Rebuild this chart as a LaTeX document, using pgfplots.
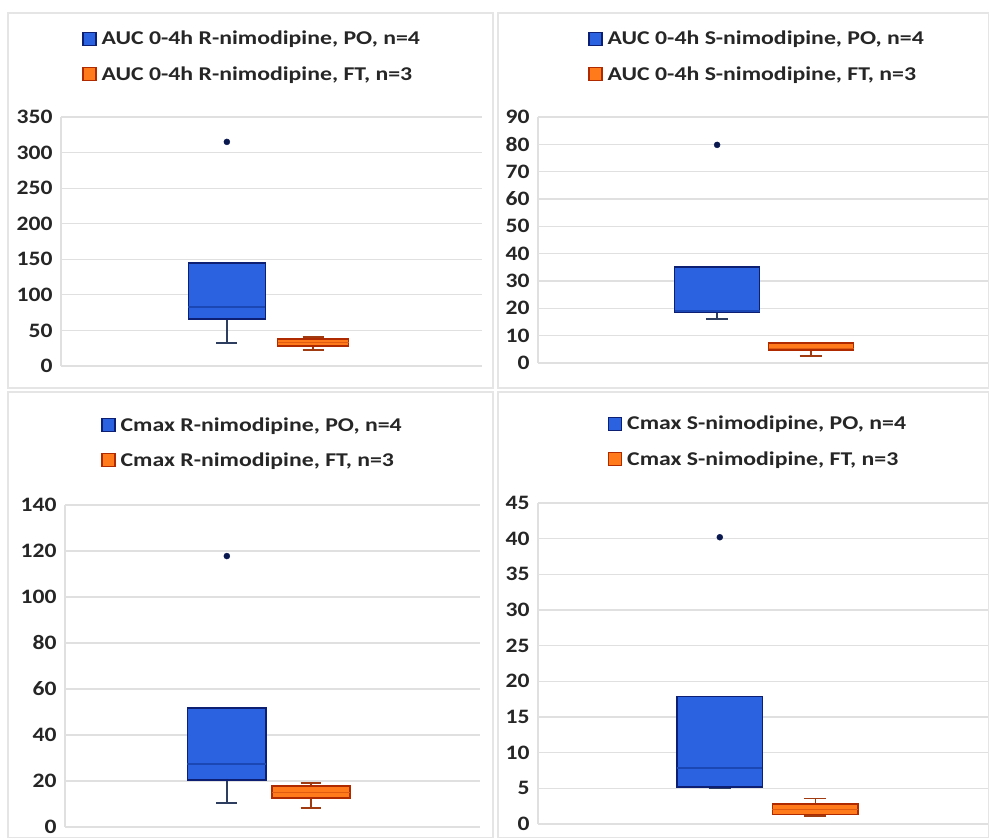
\documentclass[border=0pt]{standalone}
\usepackage{pgfplots}
\pgfplotsset{compat=1.18}
\usepackage{fontspec}
\setmainfont{Carlito}
\newfontfamily\legfont{Carlito}[FakeStretch=1.22]
\newfontfamily\tickfont{Carlito}[FakeStretch=1.15]
\definecolor{pofill}{HTML}{2B62E0}
\definecolor{pobord}{HTML}{0D1F73}
\definecolor{pomed}{HTML}{1B47B5}
\definecolor{powhisk}{HTML}{2D3D60}
\definecolor{ftfill}{HTML}{FF7A1A}
\definecolor{ftbord}{HTML}{B02A00}
\definecolor{ftmed}{HTML}{E05A10}
\definecolor{ftwhisk}{HTML}{A03A10}
\definecolor{outl}{HTML}{0A1850}
\definecolor{txt}{HTML}{262626}
\pgfplotsset{
  panel/.style={
    scale only axis, anchor=south west,
    xmin=0, xmax=1, ymin=0,
    xtick={0}, xticklabels={}, xmajorgrids, ymajorgrids,
    grid style={draw=black!12, line width=1.2pt},
    axis line style={draw=none},
    major tick length=0pt,
    tick label style={font=\tickfont\bfseries\fontsize{20.5}{24}\selectfont, text=txt},
    yticklabel style={xshift=-5pt},
    /pgf/number format/assume math mode=true,
    legend style={draw=none, fill=none, font=\legfont\bfseries\fontsize{19.5}{23}\selectfont,
      text=txt, row sep=16pt, anchor=center,
      /tikz/every odd column/.append style={column sep=3pt}},
    legend cell align=left,
    clip=false,
  },
  sq/.style={legend image code/.code={\draw[##1] (0pt,-6.5pt) rectangle (13pt,6.5pt);}},
  pobox/.style={draw=pobord, fill=pofill, line width=1.6pt, mark=none, forget plot},
  pomedian/.style={draw=pomed, line width=1.2pt, mark=none, forget plot},
  powh/.style={draw=powhisk, line width=1.6pt, mark=none, forget plot},
  poout/.style={only marks, mark=*, mark size=3pt, draw=outl, fill=outl, forget plot},
  ftbox/.style={draw=ftbord, fill=ftfill, line width=1.4pt, mark=none, forget plot},
  ftmedian/.style={draw=ftmed, line width=1pt, mark=none, forget plot},
  ftwh/.style={draw=ftwhisk, line width=1.4pt, mark=none, forget plot},
}
\begin{document}
\begin{tikzpicture}
\useasboundingbox (0pt,0pt) rectangle (989pt,838pt);
% panel frames
\draw[black!10, line width=1.2pt] (8pt,450pt) rectangle (493pt,825pt);
\draw[black!10, line width=1.2pt] (498pt,450pt) rectangle (989pt,825pt);
\draw[black!10, line width=1.2pt] (8pt,0pt) rectangle (493pt,446pt);
\draw[black!10, line width=1.2pt] (498pt,0pt) rectangle (989pt,446pt);

% Panel 1: AUC R
\begin{axis}[panel, at={(61pt,472pt)}, width=421pt, height=249pt,
  ymax=350, ytick={0,50,...,350},
  legend style={at={(axis description cs:0.454,1.243)}}]
% PO: lw 32, q1 66, med 83, q3 145, outlier 315
\addplot[powh] coordinates {(0.394,66) (0.394,32)};
\addplot[powh] coordinates {(0.369,32) (0.419,32)};
\addplot[pobox] coordinates {(0.3025,66) (0.4855,66) (0.4855,145) (0.3025,145)} --cycle;
\addplot[pomedian] coordinates {(0.3025,83) (0.4855,83)};
\addplot[poout] coordinates {(0.394,315)};
% FT: lw 22.5, q1 28, med 33, q3 38, uw 41
\addplot[ftwh] coordinates {(0.599,28) (0.599,22.5)};
\addplot[ftwh] coordinates {(0.574,22.5) (0.624,22.5)};
\addplot[ftwh] coordinates {(0.599,38) (0.599,41)};
\addplot[ftwh] coordinates {(0.574,41) (0.624,41)};
\addplot[ftbox] coordinates {(0.5145,28) (0.6835,28) (0.6835,38) (0.5145,38)} --cycle;
\addplot[ftmedian] coordinates {(0.5145,33) (0.6835,33)};
\addlegendimage{sq, fill=pofill, draw=pobord, line width=1.2pt}
\addlegendentry{AUC 0-4h R-nimodipine, PO, n=4}
\addlegendimage{sq, fill=ftfill, draw=ftbord, line width=1.2pt}
\addlegendentry{AUC 0-4h R-nimodipine, FT, n=3}
\end{axis}

% Panel 2: AUC S
\begin{axis}[panel, at={(538pt,475pt)}, width=450pt, height=246pt,
  ymax=90, ytick={0,10,...,90},
  legend style={at={(axis description cs:0.487,1.246)}}]
% PO: lw 16.1, q1 18.7, med 19, q3 35.1, outlier 79.8
\addplot[powh] coordinates {(0.398,18.7) (0.398,16.1)};
\addplot[powh] coordinates {(0.373,16.1) (0.423,16.1)};
\addplot[pobox] coordinates {(0.3035,18.7) (0.4925,18.7) (0.4925,35.1) (0.3035,35.1)} --cycle;
\addplot[pomedian] coordinates {(0.3035,19) (0.4925,19)};
\addplot[poout] coordinates {(0.398,79.8)};
% FT: lw 2.6, q1 4.8, med 5.2, q3 7.3
\addplot[ftwh] coordinates {(0.607,4.8) (0.607,2.6)};
\addplot[ftwh] coordinates {(0.582,2.6) (0.632,2.6)};
\addplot[ftbox] coordinates {(0.5125,4.8) (0.7015,4.8) (0.7015,7.3) (0.5125,7.3)} --cycle;
\addplot[ftmedian] coordinates {(0.5125,5.2) (0.7015,5.2)};
\addlegendimage{sq, fill=pofill, draw=pobord, line width=1.2pt}
\addlegendentry{AUC 0-4h S-nimodipine, PO, n=4}
\addlegendimage{sq, fill=ftfill, draw=ftbord, line width=1.2pt}
\addlegendentry{AUC 0-4h S-nimodipine, FT, n=3}
\end{axis}

% Panel 3: Cmax R
\begin{axis}[panel, at={(65pt,11pt)}, width=415pt, height=322pt,
  ymax=140, ytick={0,20,...,140},
  legend style={at={(axis description cs:0.452,1.194)}}]
% PO: lw 10.4, q1 20.4, med 27.4, q3 51.7, outlier 117.8
\addplot[powh] coordinates {(0.39,20.4) (0.39,10.4)};
\addplot[powh] coordinates {(0.365,10.4) (0.415,10.4)};
\addplot[pobox] coordinates {(0.295,20.4) (0.485,20.4) (0.485,51.7) (0.295,51.7)} --cycle;
\addplot[pomedian] coordinates {(0.295,27.4) (0.485,27.4)};
\addplot[poout] coordinates {(0.39,117.8)};
% FT: lw 8.3, q1 12.6, med 15, q3 17.8, uw 19.1
\addplot[ftwh] coordinates {(0.593,12.6) (0.593,8.3)};
\addplot[ftwh] coordinates {(0.568,8.3) (0.618,8.3)};
\addplot[ftwh] coordinates {(0.593,17.8) (0.593,19.1)};
\addplot[ftwh] coordinates {(0.568,19.1) (0.618,19.1)};
\addplot[ftbox] coordinates {(0.499,12.6) (0.687,12.6) (0.687,17.8) (0.499,17.8)} --cycle;
\addplot[ftmedian] coordinates {(0.499,15) (0.687,15)};
\addlegendimage{sq, fill=pofill, draw=pobord, line width=1.2pt}
\addlegendentry{Cmax R-nimodipine, PO, n=4}
\addlegendimage{sq, fill=ftfill, draw=ftbord, line width=1.2pt}
\addlegendentry{Cmax R-nimodipine, FT, n=3}
\end{axis}

% Panel 4: Cmax S
\begin{axis}[panel, at={(538pt,14pt)}, width=450pt, height=321pt,
  ymax=45, ytick={0,5,...,45},
  legend style={at={(axis description cs:0.489,1.192)}}]
% PO: lw 5.0, q1 5.2, med 7.85, q3 17.9, outlier 40.2
\addplot[powh] coordinates {(0.404,5.2) (0.404,5.0)};
\addplot[powh] coordinates {(0.379,5.0) (0.429,5.0)};
\addplot[pobox] coordinates {(0.3095,5.2) (0.4985,5.2) (0.4985,17.9) (0.3095,17.9)} --cycle;
\addplot[pomedian] coordinates {(0.3095,7.85) (0.4985,7.85)};
\addplot[poout] coordinates {(0.404,40.2)};
% FT: lw 1.1, q1 1.3, med 2, q3 2.8, uw 3.6
\addplot[ftwh] coordinates {(0.616,1.3) (0.616,1.1)};
\addplot[ftwh] coordinates {(0.591,1.1) (0.641,1.1)};
\addplot[ftwh] coordinates {(0.616,2.8) (0.616,3.6)};
\addplot[ftwh] coordinates {(0.591,3.6) (0.641,3.6)};
\addplot[ftbox] coordinates {(0.5205,1.3) (0.7115,1.3) (0.7115,2.8) (0.5205,2.8)} --cycle;
\addplot[ftmedian] coordinates {(0.5205,2) (0.7115,2)};
\addlegendimage{sq, fill=pofill, draw=pobord, line width=1.2pt}
\addlegendentry{Cmax S-nimodipine, PO, n=4}
\addlegendimage{sq, fill=ftfill, draw=ftbord, line width=1.2pt}
\addlegendentry{Cmax S-nimodipine, FT, n=3}
\end{axis}
\end{tikzpicture}
\end{document}
